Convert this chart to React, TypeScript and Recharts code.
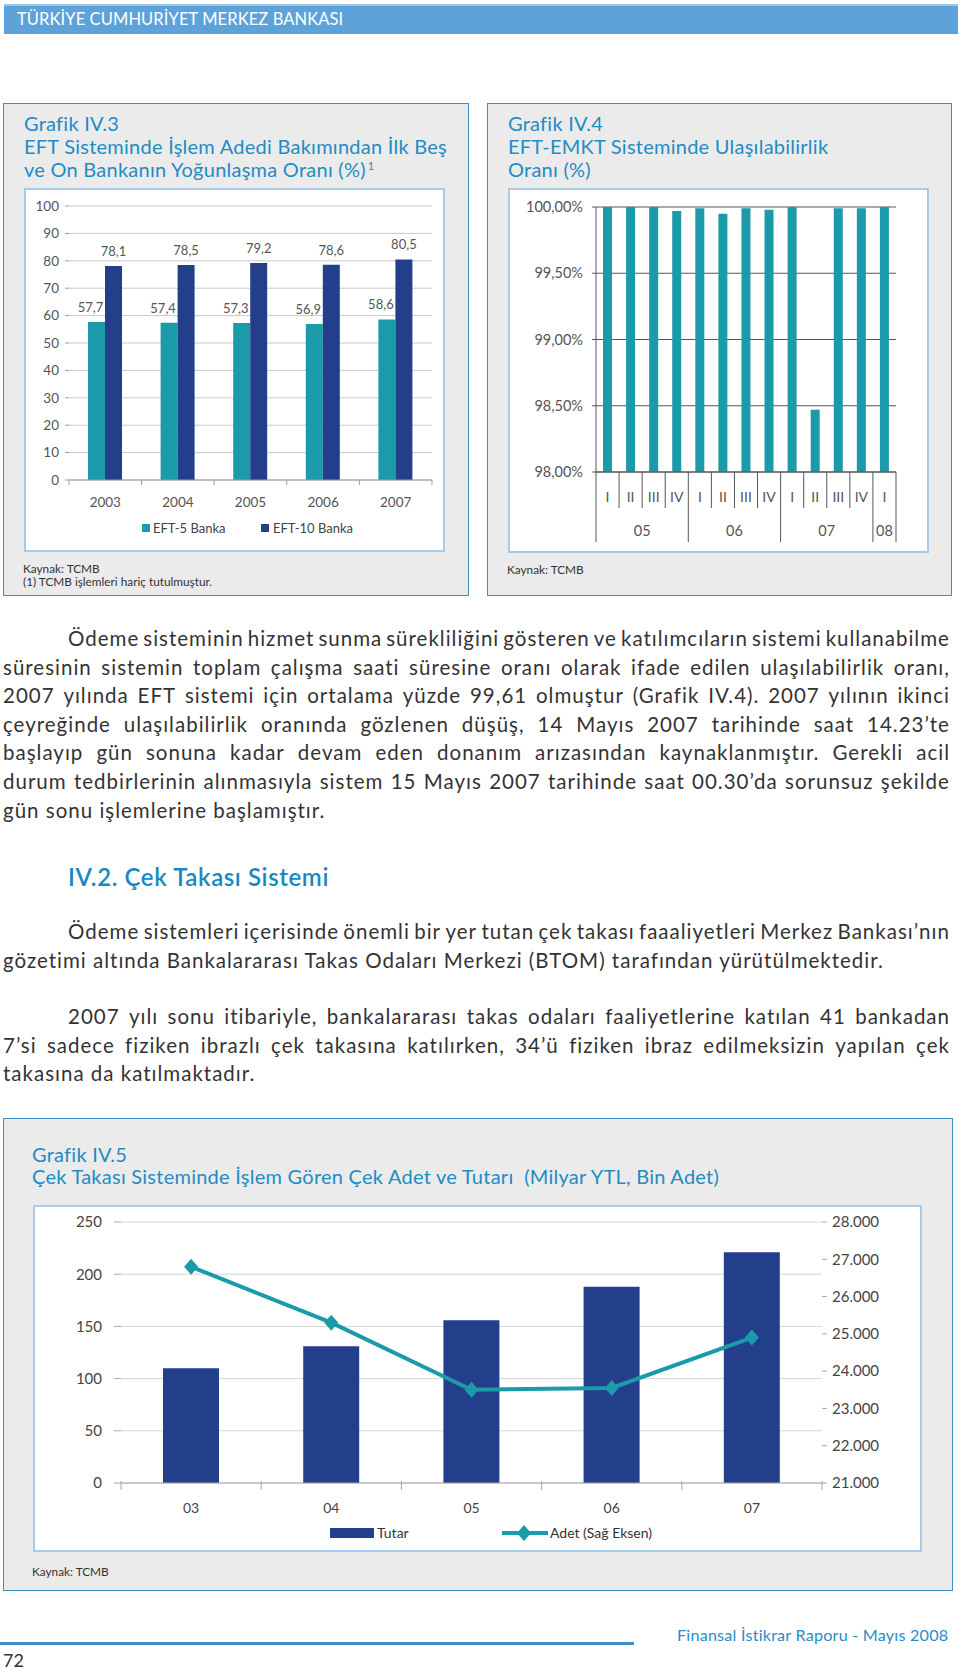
import React from 'react';
import { BarChart, Bar, XAxis, YAxis, CartesianGrid, LabelList, ComposedChart, Line } from 'recharts';

const FONT = 'Lato, "Noto Sans", sans-serif';
const TITLE_BLUE = '#1f8cc3';
const TEAL = '#1b9aaa';
const NAVY = '#233f8b';
const BOX_BORDER = '#3d8fc4';
const INNER_BORDER = '#a8c9e7';

// ---------- Grafik IV.3 ----------
const YEARS_3 = ['2003', '2004', '2005', '2006', '2007'];
const EFT5 = [57.7, 57.4, 57.3, 56.9, 58.6];
const EFT10 = [78.1, 78.5, 79.2, 78.6, 80.5];
const TICKS_3 = [0, 10, 20, 30, 40, 50, 60, 70, 80, 90, 100];
const SERIES_3 = ['EFT-5 Banka', 'EFT-10 Banka'];

// ---------- Grafik IV.4 ----------
const QUARTERS = ['I', 'II', 'III', 'IV', 'I', 'II', 'III', 'IV', 'I', 'II', 'III', 'IV', 'I'];
const QYEARS = ['05', '05', '05', '05', '06', '06', '06', '06', '07', '07', '07', '07', '08'];
const AVAIL = [100, 100, 100, 99.97, 99.99, 99.95, 99.99, 99.98, 100, 98.47, 99.99, 99.99, 100];
const TICKS_4 = [98, 98.5, 99, 99.5, 100];

// ---------- Grafik IV.5 ----------
const YEARS_5 = ['03', '04', '05', '06', '07'];
const TUTAR = [110, 131, 156, 188, 221];
const ADET = [26800, 25300, 23500, 23550, 24900];
const TICKS_5L = [0, 50, 100, 150, 200, 250];
const TICKS_5R = [21000, 22000, 23000, 24000, 25000, 26000, 27000, 28000];
const SERIES_5 = ['Tutar', 'Adet (Sağ Eksen)'];

const data3 = YEARS_3.map((y, i) => ({ year: y, eft5: EFT5[i], eft10: EFT10[i] }));
const data4 = QUARTERS.map((q, i) => ({ id: `${QYEARS[i]}-${q}-${i}`, v: AVAIL[i] }));
const data5 = YEARS_5.map((y, i) => ({ year: y, tutar: TUTAR[i], adet: ADET[i] }));

// chart geometry
const C1 = { w: 421, h: 364, top: 18, right: 13, yw: 45, xh: 72 };
const C2 = { w: 421, h: 365, top: 19, right: 33, yw: 88, xh: 81 };
const C3 = { w: 889, h: 347, top: 17, yw: 88, yrw: 100, xh: 69 };
const BAND1 = (C1.w - C1.yw - C1.right) / YEARS_3.length;
const BAND2 = (C2.w - C2.yw - C2.right) / QUARTERS.length;
const BAND3 = (C3.w - C3.yw - C3.yrw) / YEARS_5.length;

const comma = (v: number) => String(v).replace('.', ',');

const Tick1 = (props: any) => {
  const { x, y, index, payload } = props;
  const half = BAND1 / 2;
  return (
    <g>
      <line x1={x - half} x2={x - half} y1={y} y2={y + 5} stroke="#a0a0a0" />
      {index === YEARS_3.length - 1 && <line x1={x + half} x2={x + half} y1={y} y2={y + 5} stroke="#a0a0a0" />}
      <text x={x} y={y + 22} textAnchor="middle" dominantBaseline="central" fontSize={13.5} fill="#555">
        {payload.value}
      </text>
    </g>
  );
};

const Tick2 = (props: any) => {
  const { x, y, index } = props;
  const half = BAND2 / 2;
  const left = x - half;
  const yearStart = index === 0 || QYEARS[index] !== QYEARS[index - 1];
  let span = 0;
  if (yearStart) {
    for (let k = index; k < QYEARS.length && QYEARS[k] === QYEARS[index]; k++) span++;
  }
  const isLast = index === QUARTERS.length - 1;
  return (
    <g>
      <line x1={left} x2={left} y1={y} y2={y + (yearStart ? 70 : 36)} stroke="#555" />
      {isLast && <line x1={x + half} x2={x + half} y1={y} y2={y + 70} stroke="#555" />}
      <text x={x} y={y + 24} textAnchor="middle" dominantBaseline="central" fontSize={14} fill="#555">
        {QUARTERS[index]}
      </text>
      {yearStart && (
        <text x={left + (span * BAND2) / 2} y={y + 58} textAnchor="middle" dominantBaseline="central" fontSize={14.5} fill="#555">
          {QYEARS[index]}
        </text>
      )}
    </g>
  );
};

const Tick3 = (props: any) => {
  const { x, y, index, payload } = props;
  const half = BAND3 / 2;
  return (
    <g>
      <line x1={x - half} x2={x - half} y1={y - 2} y2={y + 7} stroke="#a8a8a8" />
      {index === YEARS_5.length - 1 && <line x1={x + half} x2={x + half} y1={y - 2} y2={y + 7} stroke="#a8a8a8" />}
      <text x={x} y={y + 24} textAnchor="middle" dominantBaseline="central" fontSize={14} fill="#444">
        {payload.value}
      </text>
    </g>
  );
};

// EFT-5 labels sit a little left of their bar centre, as in the source
const Eft5Label = (p: any) => {
  const { x, y, width, value } = p;
  if (x == null || y == null) return null;
  return (
    <text x={x + width / 2 - 6} y={y - 10} textAnchor="middle" fontSize={13} fill="#555">
      {comma(value)}
    </text>
  );
};

const Diamond = (p: any) => {
  const { cx, cy } = p;
  if (cx == null || cy == null) return null;
  return <path d={`M${cx},${cy - 8} L${cx + 7},${cy} L${cx},${cy + 8} L${cx - 7},${cy} Z`} fill={TEAL} />;
};

const LH = 28.6;
const BODY_FS = 20.5;
const JLine = ({ text, indent = 0, last = false }: { text: string; indent?: number; last?: boolean }) => (
  <div
    style={{
      display: 'flex',
      justifyContent: last ? 'flex-start' : 'space-between',
      paddingLeft: indent,
      whiteSpace: 'pre',
      height: LH,
    }}
  >
    {last ? <span>{text}</span> : text.split(' ').map((w, i) => <span key={i}>{w}</span>)}
  </div>
);

const P1 = [
  'Ödeme sisteminin hizmet sunma sürekliliğini gösteren ve katılımcıların sistemi kullanabilme',
  'süresinin sistemin toplam çalışma saati süresine oranı olarak ifade edilen ulaşılabilirlik oranı,',
  '2007 yılında EFT sistemi için ortalama yüzde 99,61 olmuştur (Grafik IV.4). 2007 yılının ikinci',
  'çeyreğinde ulaşılabilirlik oranında gözlenen düşüş, 14 Mayıs 2007 tarihinde saat 14.23’te',
  'başlayıp gün sonuna kadar devam eden donanım arızasından kaynaklanmıştır. Gerekli acil',
  'durum tedbirlerinin alınmasıyla sistem 15 Mayıs 2007 tarihinde saat 00.30’da sorunsuz şekilde',
  'gün sonu işlemlerine başlamıştır.',
];
const P2 = [
  'Ödeme sistemleri içerisinde önemli bir yer tutan çek takası faaaliyetleri Merkez Bankası’nın',
  'gözetimi altında Bankalararası Takas Odaları Merkezi (BTOM) tarafından yürütülmektedir.',
];
const P3 = [
  '2007 yılı sonu itibariyle, bankalararası takas odaları faaliyetlerine katılan 41 bankadan',
  '7’si sadece fiziken ibrazlı çek takasına katılırken, 34’ü fiziken ibraz edilmeksizin yapılan çek',
  'takasına da katılmaktadır.',
];

const Para = ({ lines, top }: { lines: string[]; top: number }) => (
  <div
    style={{
      position: 'absolute',
      left: 3,
      top,
      width: 947,
      fontSize: BODY_FS,
      letterSpacing: 1,
      lineHeight: `${LH}px`,
      color: '#333',
    }}
  >
    {lines.map((t, i) => (
      <JLine key={i} text={t} indent={i === 0 ? 65 : 0} last={i === lines.length - 1} />
    ))}
  </div>
);

const abs = (left: number, top: number, extra: React.CSSProperties = {}): React.CSSProperties => ({
  position: 'absolute',
  left,
  top,
  ...extra,
});

const TITLE_STYLE: React.CSSProperties = { color: TITLE_BLUE, fontSize: 20, letterSpacing: 0.25, whiteSpace: 'pre' };
const NOTE_STYLE: React.CSSProperties = { fontSize: 11.8, lineHeight: '13px', color: '#333' };

export default function App() {
  return (
    <div style={{ position: 'absolute', left: 0, top: 0, width: 960, height: 1670, background: '#fff', overflow: 'hidden', fontFamily: FONT }}>
      {/* header */}
      <div style={abs(4, 4, { width: 954, height: 30, background: '#5da3d9', borderTop: '2px solid #9cc6ea', boxSizing: 'border-box' })} />
      <div style={abs(17, 9, { color: '#fff', fontSize: 16.5, lineHeight: '20px', letterSpacing: 0.1 })}>TÜRKİYE CUMHURİYET MERKEZ BANKASI</div>

      {/* ---------- Box 1 ---------- */}
      <div style={abs(3, 103, { width: 466, height: 493, background: '#ebebeb', border: `1.5px solid ${BOX_BORDER}`, boxSizing: 'border-box' })} />
      <div style={abs(24, 112, { ...TITLE_STYLE, lineHeight: '23px' })}>
        <div>Grafik IV.3</div>
        <div>EFT Sisteminde İşlem Adedi Bakımından İlk Beş</div>
        <div>
          ve On Bankanın Yoğunlaşma Oranı (%)
          <sup style={{ fontSize: 11, verticalAlign: 'top', position: 'relative', top: -4, marginLeft: 2 }}>1</sup>
        </div>
      </div>
      <div style={abs(24, 188, { width: 421, height: 364, background: '#fff', border: `2.5px solid ${INNER_BORDER}`, boxSizing: 'border-box' })} />
      <div style={abs(24, 188, { width: C1.w, height: C1.h })}>
        <BarChart width={C1.w} height={C1.h} data={data3} margin={{ top: C1.top, right: C1.right, left: 0, bottom: 0 }} barGap={0}>
          <CartesianGrid vertical={false} stroke="#c9c9c9" />
          <XAxis dataKey="year" height={C1.xh} axisLine={{ stroke: '#9a9a9a' }} tickLine={false} tickSize={0} tickMargin={0} interval={0} tick={<Tick1 />} />
          <YAxis domain={[0, 100]} ticks={TICKS_3} interval={0} width={C1.yw} axisLine={false} tickLine={{ stroke: '#9a9a9a' }} tickSize={4} tickMargin={6} tick={{ fontSize: 13.5, fill: '#555' }} />
          <Bar dataKey="eft5" fill={TEAL} barSize={17} isAnimationActive={false}>
            <LabelList dataKey="eft5" content={Eft5Label} />
          </Bar>
          <Bar dataKey="eft10" fill={NAVY} barSize={17} isAnimationActive={false}>
            <LabelList dataKey="eft10" position="top" offset={10} fontSize={13} fill="#555" formatter={(v: any) => comma(v)} />
          </Bar>
        </BarChart>
      </div>
      {/* legend 1 */}
      <div style={abs(142, 524, { width: 8, height: 8, background: TEAL })} />
      <div style={abs(153, 520, { fontSize: 13, lineHeight: '16px', color: '#444' })}>{SERIES_3[0]}</div>
      <div style={abs(261, 524, { width: 8, height: 8, background: NAVY })} />
      <div style={abs(273, 520, { fontSize: 13, lineHeight: '16px', color: '#444' })}>{SERIES_3[1]}</div>
      <div style={abs(23, 562, NOTE_STYLE)}>
        <div>Kaynak: TCMB</div>
        <div>(1) TCMB işlemleri hariç tutulmuştur.</div>
      </div>

      {/* ---------- Box 2 ---------- */}
      <div style={abs(487, 103, { width: 465, height: 493, background: '#ebebeb', border: `1.5px solid ${BOX_BORDER}`, boxSizing: 'border-box' })} />
      <div style={abs(508, 112, { ...TITLE_STYLE, lineHeight: '23px' })}>
        <div>Grafik IV.4</div>
        <div>EFT-EMKT Sisteminde Ulaşılabilirlik</div>
        <div>Oranı (%)</div>
      </div>
      <div style={abs(508, 188, { width: 421, height: 365, background: '#fff', border: `2.5px solid ${INNER_BORDER}`, boxSizing: 'border-box' })} />
      <div style={abs(508, 188, { width: C2.w, height: C2.h })}>
        <BarChart width={C2.w} height={C2.h} data={data4} margin={{ top: C2.top, right: C2.right, left: 0, bottom: 0 }}>
          <CartesianGrid vertical={false} stroke="#555" />
          <XAxis dataKey="id" height={C2.xh} axisLine={{ stroke: '#555' }} tickLine={false} tickSize={0} tickMargin={0} interval={0} tick={<Tick2 />} />
          <YAxis
            domain={[98, 100]}
            ticks={TICKS_4}
            interval={0}
            allowDataOverflow
            width={C2.yw}
            axisLine={{ stroke: '#555' }}
            tickLine={{ stroke: '#555' }}
            tickSize={4}
            tickMargin={9}
            tick={{ fontSize: 14.5, fill: '#555' }}
            tickFormatter={(v: number) => v.toFixed(2).replace('.', ',') + '%'}
          />
          <Bar dataKey="v" fill={TEAL} barSize={9} isAnimationActive={false} />
        </BarChart>
      </div>
      <div style={abs(507, 563, NOTE_STYLE)}>Kaynak: TCMB</div>

      {/* ---------- Text ---------- */}
      <Para lines={P1} top={624} />
      <div style={abs(68, 863, { fontSize: 24, letterSpacing: 0.6, fontWeight: 600, lineHeight: '28px', color: '#1a88c0' })}>IV.2. Çek Takası Sistemi</div>
      <Para lines={P2} top={917} />
      <Para lines={P3} top={1002} />

      {/* ---------- Box 3 ---------- */}
      <div style={abs(3, 1118, { width: 950, height: 473, background: '#ebebeb', border: `1.5px solid ${BOX_BORDER}`, boxSizing: 'border-box' })} />
      <div style={abs(32, 1143, { ...TITLE_STYLE, lineHeight: '22px' })}>
        <div>Grafik IV.5</div>
        <div>Çek Takası Sisteminde İşlem Gören Çek Adet ve Tutarı  (Milyar YTL, Bin Adet)</div>
      </div>
      <div style={abs(33, 1205, { width: 889, height: 347, background: '#fff', border: `2.5px solid ${INNER_BORDER}`, boxSizing: 'border-box' })} />
      <div style={abs(33, 1205, { width: C3.w, height: C3.h })}>
        <ComposedChart width={C3.w} height={C3.h} data={data5} margin={{ top: C3.top, right: 0, left: 0, bottom: 0 }}>
          <CartesianGrid vertical={false} stroke="#d6d6d6" yAxisId="left" />
          <XAxis dataKey="year" height={C3.xh} axisLine={{ stroke: '#a8a8a8' }} tickLine={false} tickSize={0} tickMargin={0} interval={0} tick={<Tick3 />} />
          <YAxis yAxisId="left" domain={[0, 250]} ticks={TICKS_5L} interval={0} width={C3.yw} axisLine={false} tickLine={{ stroke: '#a8a8a8' }} tickSize={7} tickMargin={12} tick={{ fontSize: 15, fill: '#444' }} />
          <YAxis
            yAxisId="right"
            orientation="right"
            domain={[21000, 28000]}
            ticks={TICKS_5R}
            interval={0}
            width={C3.yrw}
            axisLine={false}
            tickLine={{ stroke: '#a8a8a8' }}
            tickSize={5}
            tickMargin={5}
            tick={{ fontSize: 15, fill: '#444' }}
            tickFormatter={(v: number) => (v / 1000).toFixed(3)}
          />
          <Bar yAxisId="left" dataKey="tutar" fill={NAVY} barSize={56} isAnimationActive={false} />
          <Line
            yAxisId="right"
            dataKey="adet"
            stroke={TEAL}
            strokeWidth={4}
            isAnimationActive={false}
            dot={(p: any) => <Diamond key={`d-${p.index}`} {...p} />}
            activeDot={false}
          />
        </ComposedChart>
      </div>
      {/* legend 3 */}
      <div style={abs(330, 1528, { width: 44, height: 10, background: NAVY })} />
      <div style={abs(377, 1524, { fontSize: 14, lineHeight: '18px', color: '#333' })}>{SERIES_5[0]}</div>
      <div style={abs(502, 1531, { width: 46, height: 4, background: TEAL })} />
      <svg style={abs(516, 1524, { width: 16, height: 18 })} width={16} height={18}>
        <path d="M8,1 L15,9 L8,17 L1,9 Z" fill={TEAL} />
      </svg>
      <div style={abs(550, 1524, { fontSize: 14, lineHeight: '18px', color: '#333' })}>{SERIES_5[1]}</div>
      <div style={abs(32, 1565, NOTE_STYLE)}>Kaynak: TCMB</div>

      {/* footer */}
      <div style={abs(0, 1642, { width: 634, height: 3, background: '#3d8fc5' })} />
      <div style={abs(677, 1624, { fontSize: 16.2, letterSpacing: 0.2, lineHeight: '21px', color: '#2b8bc6', whiteSpace: 'nowrap' })}>Finansal İstikrar Raporu - Mayıs 2008</div>
      <div style={abs(3, 1652, { fontSize: 18, lineHeight: '17px', color: '#333' })}>72</div>
    </div>
  );
}
